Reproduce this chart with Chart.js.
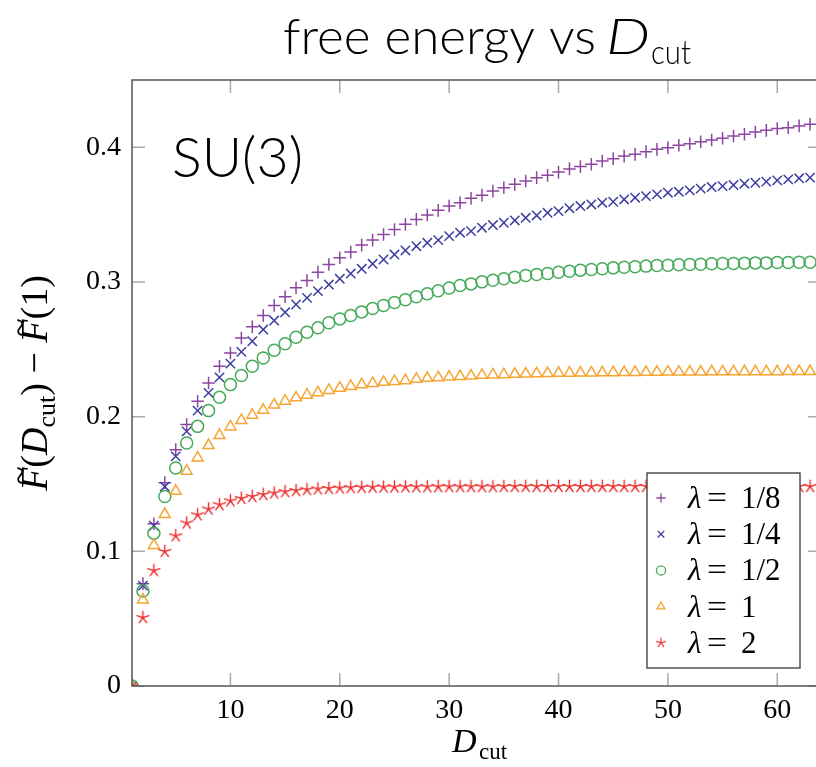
<!DOCTYPE html>
<html><head><meta charset="utf-8">
<script src="https://cdn.jsdelivr.net/npm/chart.js@4.4.0/dist/chart.umd.min.js"></script>
<style>
html,body{margin:0;padding:0;background:#fff;overflow:hidden;width:816px;height:767px}
#wrap{position:absolute;left:0;top:0;width:840px;height:767px}
</style></head>
<body><div id="wrap"><canvas id="c" width="840" height="767"></canvas></div>
<script>
// ---- data ----
const dcut = [1,2,3,4,5,6,7,8,9,10,11,12,13,14,15,16,17,18,19,20,21,22,23,24,25,26,27,28,29,30,31,32,33,34,35,36,37,38,39,40,41,42,43,44,45,46,47,48,49,50,51,52,53,54,55,56,57,58,59,60,61,62,63];
const seriesNames = ['1/8','1/4','1/2','1','2'];
const fLam1_8 = [0,0.0760,0.1205,0.1510,0.1755,0.1941,0.2114,0.2250,0.2374,0.2473,0.2584,0.2667,0.2751,0.2825,0.2890,0.2957,0.3011,0.3073,0.3130,0.3180,0.3222,0.3274,0.3311,0.3353,0.3390,0.3428,0.3465,0.3497,0.3532,0.3564,0.3589,0.3621,0.3645,0.3675,0.3700,0.3725,0.3750,0.3775,0.3792,0.3816,0.3840,0.3857,0.3874,0.3898,0.3916,0.3935,0.3948,0.3968,0.3985,0.3997,0.4015,0.4027,0.4042,0.4054,0.4067,0.4084,0.4097,0.4114,0.4126,0.4139,0.4146,0.4159,0.4171];
const fLam1_4 = [0,0.0745,0.1190,0.1480,0.1705,0.1891,0.2045,0.2177,0.2292,0.2394,0.2481,0.2560,0.2647,0.2714,0.2775,0.2833,0.2882,0.2932,0.2981,0.3024,0.3063,0.3098,0.3135,0.3167,0.3204,0.3234,0.3266,0.3291,0.3311,0.3341,0.3366,0.3378,0.3403,0.3423,0.3440,0.3457,0.3477,0.3494,0.3514,0.3526,0.3548,0.3564,0.3576,0.3589,0.3596,0.3613,0.3626,0.3638,0.3651,0.3663,0.3670,0.3680,0.3693,0.3705,0.3712,0.3720,0.3730,0.3737,0.3745,0.3755,0.3762,0.3770,0.3775];
const fLam1_2 = [0,0.0706,0.1135,0.1407,0.1619,0.1804,0.1928,0.2045,0.2144,0.2238,0.2305,0.2374,0.2436,0.2493,0.2541,0.2590,0.2627,0.2660,0.2697,0.2726,0.2751,0.2778,0.2803,0.2825,0.2848,0.2868,0.2890,0.2913,0.2935,0.2955,0.2974,0.2986,0.3001,0.3013,0.3024,0.3036,0.3048,0.3056,0.3063,0.3073,0.3080,0.3088,0.3093,0.3098,0.3105,0.3110,0.3113,0.3118,0.3123,0.3125,0.3128,0.3130,0.3132,0.3135,0.3138,0.3138,0.3140,0.3142,0.3142,0.3145,0.3145,0.3147,0.3147];
const fLam1 = [0,0.0640,0.1045,0.1275,0.1447,0.1596,0.1695,0.1787,0.1861,0.1925,0.1973,0.2012,0.2049,0.2087,0.2116,0.2141,0.2161,0.2178,0.2196,0.2213,0.2226,0.2238,0.2248,0.2256,0.2263,0.2268,0.2279,0.2286,0.2291,0.2296,0.2299,0.2303,0.2308,0.2311,0.2313,0.2316,0.2318,0.2320,0.2322,0.2323,0.2324,0.2325,0.2326,0.2327,0.2328,0.2329,0.2330,0.2331,0.2331,0.2332,0.2332,0.2333,0.2333,0.2334,0.2334,0.2334,0.2335,0.2335,0.2335,0.2335,0.2336,0.2336,0.2336];
const fLam2 = [0,0.0508,0.0857,0.0999,0.1115,0.1210,0.1271,0.1314,0.1346,0.1375,0.1393,0.1407,0.1422,0.1433,0.1443,0.1451,0.1458,0.1463,0.1467,0.1470,0.1473,0.1475,0.1476,0.1477,0.1478,0.1479,0.1479,0.1479,0.1480,0.1480,0.1480,0.1480,0.1480,0.1480,0.1481,0.1481,0.1481,0.1481,0.1481,0.1481,0.1481,0.1481,0.1481,0.1481,0.1481,0.1481,0.1481,0.1481,0.1481,0.1481,0.1481,0.1481,0.1481,0.1481,0.1481,0.1481,0.1481,0.1481,0.1481,0.1481,0.1481,0.1481,0.1481];
const xTickValues = [10,20,30,40,50,60];
const yTickValues = [0,0.1,0.2,0.3,0.4];
const yTickLabels = ['0','0.1','0.2','0.3','0.4'];

// ---- styles ----
const colors = ['rgb(140,70,160)','rgb(62,62,160)','rgb(70,170,90)','rgb(245,165,50)','rgb(235,45,45)'];
function makeStar(r, color, lw){
  const s = Math.ceil(2*r+4); const c = document.createElement('canvas'); c.width = s; c.height = s;
  const g = c.getContext('2d'); g.strokeStyle = color; g.lineWidth = lw; g.lineCap='round';
  const cx = s/2, cy = s/2;
  g.beginPath();
  for (let k=0;k<5;k++){ const a = -Math.PI/2 + k*2*Math.PI/5; g.moveTo(cx,cy); g.lineTo(cx+r*Math.cos(a), cy+r*Math.sin(a)); }
  g.stroke(); return c;
}
const starBig = makeStar(6.3, colors[4], 1.4);
const starSmall = makeStar(4.6, colors[4], 1.2);

const allSeries = [fLam1_8, fLam1_4, fLam1_2, fLam1, fLam2];
const styles = [
  {pointStyle:'cross', pointRadius:6.3, borderWidth:1.5},
  {pointStyle:'crossRot', pointRadius:6.6, borderWidth:1.5},
  {pointStyle:'circle', pointRadius:6.0, borderWidth:1.5},
  {pointStyle:'triangle', pointRadius:6.3, borderWidth:1.5},
  {pointStyle:starBig, pointRadius:6.3, borderWidth:1.4}
];
const datasets = allSeries.map((vals,i)=>({
  label: 'λ = ' + seriesNames[i],
  data: dcut.map((d,j)=>({x:d, y:vals[j]})),
  showLine:false,
  borderColor: colors[i],
  backgroundColor: 'rgba(0,0,0,0)',
  pointStyle: styles[i].pointStyle,
  pointRadius: styles[i].pointRadius,
  pointHoverRadius: styles[i].pointRadius,
  pointBorderWidth: styles[i].borderWidth,
  clip: 0,
  order: 5-i
}));

// ---- decorations ----
function drawMarker(g, i, x, y, r){
  g.save(); g.strokeStyle = colors[i]; g.lineWidth = 1.3; g.beginPath();
  if (i===0){ g.moveTo(x-r,y); g.lineTo(x+r,y); g.moveTo(x,y-r); g.lineTo(x,y+r); g.stroke(); }
  else if (i===1){ const d=r*0.72; g.moveTo(x-d,y-d); g.lineTo(x+d,y+d); g.moveTo(x+d,y-d); g.lineTo(x-d,y+d); g.stroke(); }
  else if (i===2){ g.arc(x,y,r,0,Math.PI*2); g.stroke(); }
  else if (i===3){ g.moveTo(x, y-r); g.lineTo(x+r*0.866, y+r*0.5); g.lineTo(x-r*0.866, y+r*0.5); g.closePath(); g.stroke(); }
  else { g.drawImage(starSmall, x-starSmall.width/2, y-starSmall.height/2); }
  g.restore();
}
function fitText(g, txt, x, y, w){
  const m = g.measureText(txt).width; g.save(); g.translate(x,y); g.scale(w/m,1); g.fillText(txt,0,0); g.restore();
}
const decor = {
  id:'decor',
  beforeDatasetsDraw(chart){
    const g = chart.ctx, a = chart.chartArea, xs = chart.scales.x, ys = chart.scales.y;
    g.save(); g.strokeStyle = '#a9a9a9'; g.lineWidth = 1.5; g.beginPath();
    xs.ticks.forEach(t=>{ const p = xs.getPixelForValue(t.value); g.moveTo(p,a.bottom); g.lineTo(p,a.bottom-13); g.moveTo(p,a.top); g.lineTo(p,a.top+13); });
    ys.ticks.forEach(t=>{ const p = ys.getPixelForValue(t.value); g.moveTo(a.left,p); g.lineTo(a.left+13,p); g.moveTo(a.right,p); g.lineTo(a.right-13,p); });
    g.stroke(); g.restore();
  },
  afterDatasetsDraw(chart){
    const g = chart.ctx, a = chart.chartArea;
    g.save(); g.strokeStyle = '#5e5e5e'; g.lineWidth = 1.6;
    g.strokeRect(a.left, a.top, a.right-a.left, a.bottom-a.top); g.restore();
  },
  afterDraw(chart){
    const g = chart.ctx; g.save(); g.fillStyle = '#000'; g.textBaseline = 'alphabetic';
    // title
    g.font = '300 50px Lato'; fitText(g, 'free energy vs', 283, 54, 313);
    g.font = 'italic 300 50px Lato'; fitText(g, 'D', 606, 54, 44);
    g.font = '300 33px Lato'; fitText(g, 'cut', 651, 64, 40);
    // SU(3)
    g.font = '300 56px Lato'; fitText(g, 'SU(3)', 172, 177, 131);
    // x title
    g.font = 'italic 34px "Liberation Serif"'; g.fillText('D', 452, 752);
    g.font = '23px "Liberation Serif"'; g.fillText('cut', 479, 759);
    // y title rotated
    g.save(); g.translate(47, 383); g.rotate(-Math.PI/2);
    const parts = [
      ['italic 38px "Liberation Serif"','F',0],
      ['38px "Liberation Serif"','(',0],
      ['italic 38px "Liberation Serif"','D',0],
      ['26px "Liberation Serif"','cut',8],
      ['38px "Liberation Serif"',') \u2212 ',0],
      ['italic 38px "Liberation Serif"','F',0],
      ['38px "Liberation Serif"','(1)',0]
    ];
    let tot = 0; parts.forEach(p=>{ g.font=p[0]; tot += g.measureText(p[1]).width; });
    let cx = -tot/2; const tildeAt = [];
    parts.forEach((p,k)=>{ g.font=p[0]; if (p[1]==='F') tildeAt.push(cx); g.fillText(p[1], cx, p[2]); cx += g.measureText(p[1]).width; });
    g.font = '34px "Liberation Serif"';
    tildeAt.forEach(t=> g.fillText('~', t+6, -16));
    g.restore();
    // legend
    const lx=647, ly=473, lw=153, lh=195;
    g.fillStyle='#fff'; g.fillRect(lx,ly,lw,lh);
    g.strokeStyle='#444'; g.lineWidth=1.4; g.strokeRect(lx,ly,lw,lh);
    g.fillStyle='#000';
    seriesNames.forEach((nm,i)=>{
      const y = 498 + i*36.2;
      drawMarker(g, i, 661, y, 4.6);
      g.font = 'italic 31px "Liberation Serif"'; g.fillText('λ', 688, y+10);
      g.font = '31px "Liberation Serif"'; fitText(g, '=', 707, y+10, 20); g.fillText(nm, 741, y+10);
    });
    g.restore();
  }
};

new Chart(document.getElementById('c'), {
  type:'scatter',
  data:{ datasets },
  plugins:[decor],
  options:{
    responsive:false, animation:false, devicePixelRatio:1,
    layout:{ padding:{ left:0, top:80, right:19, bottom:0 } },
    plugins:{ legend:{display:false}, tooltip:{enabled:false}, title:{display:false} },
    scales:{
      x:{ type:'linear', min:1, max:64,
        afterBuildTicks: s => { s.ticks = xTickValues.map(v=>({value:v})); },
        ticks:{ callback: v => String(v), font:{family:'Liberation Serif', size:28}, color:'#000', padding:8, maxRotation:0, autoSkip:false },
        grid:{ display:false, drawTicks:false }, border:{ display:false },
        afterFit: s => { s.height = 81; } },
      y:{ type:'linear', min:0, max:0.45,
        afterBuildTicks: s => { s.ticks = yTickValues.map(v=>({value:v})); },
        ticks:{ callback: (v,i) => yTickLabels[yTickValues.indexOf(v)] ?? '', font:{family:'Liberation Serif', size:28}, color:'#000', padding:11, autoSkip:false },
        grid:{ display:false, drawTicks:false }, border:{ display:false },
        afterFit: s => { s.width = 132; } }
    }
  }
});
</script>
</body></html>
